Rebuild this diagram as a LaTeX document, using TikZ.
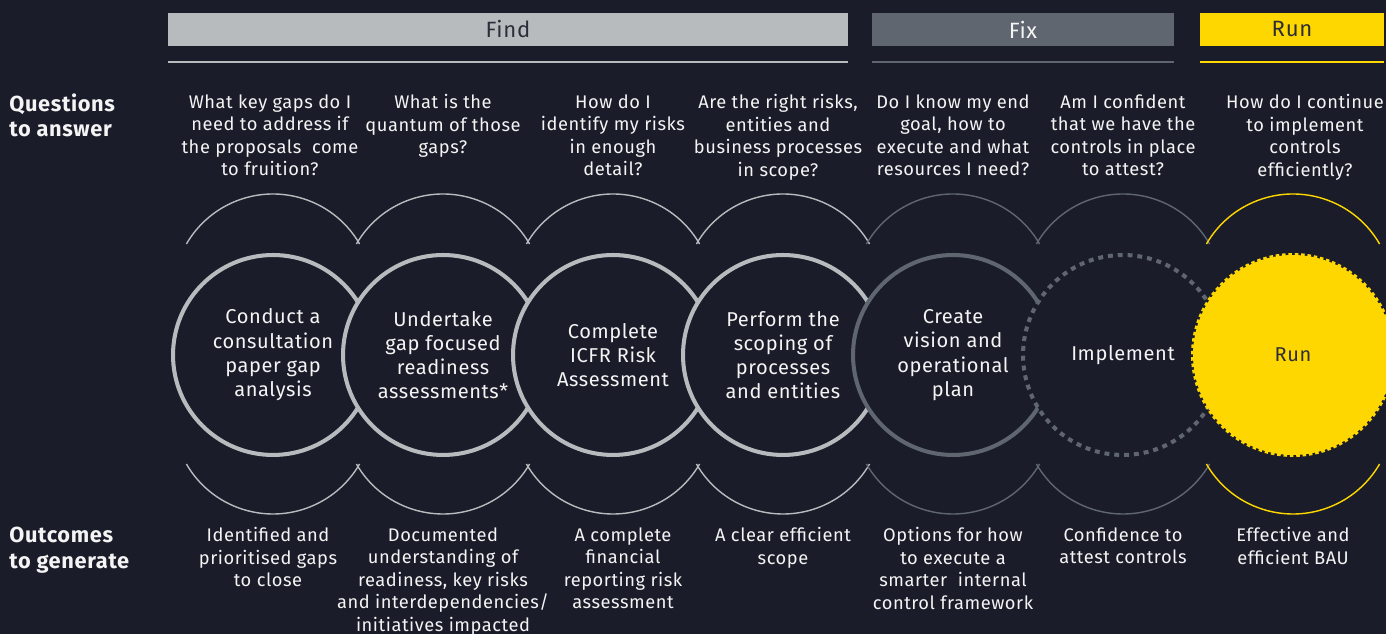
\documentclass[tikz,border=0pt]{standalone}
\usepackage{fontspec}
\setmainfont{Fira Sans}[LetterSpace=3]
\definecolor{navy}{HTML}{1A1D29}
\definecolor{findgrey}{HTML}{B8BBBE}
\definecolor{fixgrey}{HTML}{5F6670}
\definecolor{runyellow}{HTML}{FFD700}
\definecolor{inkdark}{HTML}{2B2E38}
\definecolor{paper}{HTML}{F4F4F4}
\tikzset{
  phasebar/.style={minimum height=0.66cm, inner sep=0pt, font=\fontsize{12.6}{14}\selectfont},
  sidelabel/.style={anchor=north west, align=left, inner sep=0pt, text=paper, font=\fontsize{12.4}{14.6}\bfseries\selectfont},
  question/.style={anchor=north, align=center, inner sep=0pt, text=paper, font=\fontsize{10.4}{12.8}\selectfont},
  outcome/.style={question},
  ring/.style={circle, minimum size=4cm, inner sep=0pt, line width=2.3pt, fill=navy, align=center, text=paper, font=\fontsize{11.4}{13.8}\selectfont},
  findring/.style={ring, draw=findgrey},
  fixring/.style={ring, draw=fixgrey},
  dotring/.style={ring, draw=fixgrey, dash pattern=on 2.8pt off 2.8pt},
  runring/.style={ring, draw=runyellow, fill=runyellow, text=inkdark, dash pattern=on 2pt off 1.6pt},
  findarc/.style={draw=findgrey, line width=0.8pt},
  fixarc/.style={draw=fixgrey, line width=0.8pt},
  runarc/.style={draw=runyellow, line width=0.8pt}
}
\begin{document}
\begin{tikzpicture}[x=0.02cm, y=0.02cm]
\useasboundingbox[fill=navy] (0,0) rectangle (1386,634);
\clip (0,0) rectangle (1386,634);
% phase bars
\node[phasebar, fill=findgrey, text=inkdark, minimum width=13.6cm] (find) at (508,604.5) {Find};
\node[phasebar, fill=fixgrey, text=paper, minimum width=6.04cm] (fix) at (1023,604.5) {Fix};
\node[phasebar, fill=runyellow, text=inkdark, minimum width=3.68cm] (run) at (1292,604.5) {Run};
\draw[findgrey, line width=1.1pt] (find.west |- 0,572) -- (find.east |- 0,572);
\draw[fixgrey, line width=1.1pt] (fix.west |- 0,572) -- (fix.east |- 0,572);
\draw[runyellow, line width=1.1pt] (run.west |- 0,572) -- (run.east |- 0,572);
% row labels
\node[sidelabel] (qlabel) at (9,541) {Questions\\to answer};
\node[sidelabel] (olabel) at (9,107) {Outcomes\\to generate};
% questions
\node[question] (q1) at (270,540) {What key gaps do I\\need to address if\\the proposals\ \ come\\to fruition?};
\node[question] (q2) at (443,540) {What is the\\quantum of those\\gaps?};
\node[question] (q3) at (613,540) {How do I\\identify my risks\\in enough\\detail?};
\node[question] (q4) at (778,540) {Are the right risks,\\entities and\\business processes\\in scope?};
\node[question] (q5) at (953,540) {Do I know my end\\goal, how to\\execute and what\\resources I need?};
\node[question] (q6) at (1123,540) {Am I confident\\that we have the\\controls in place\\to attest?};
\node[question] (q7) at (1305,540) {How do I continue\\to implement\\controls\\efficiently?};
% arcs above
\draw[findarc] (359.6,390) arc[start angle=30, end angle=150, radius=2cm];
\draw[findarc] (529.6,390) arc[start angle=30, end angle=150, radius=2cm];
\draw[findarc] (699.6,390) arc[start angle=30, end angle=150, radius=2cm];
\draw[findarc] (869.6,390) arc[start angle=30, end angle=150, radius=2cm];
\draw[fixarc] (1039.6,390) arc[start angle=30, end angle=150, radius=2cm];
\draw[fixarc] (1209.6,390) arc[start angle=30, end angle=150, radius=2cm];
\draw[runarc] (1379.6,390) arc[start angle=30, end angle=150, radius=2cm];
% arcs below
\draw[findarc] (186.4,170) arc[start angle=210, end angle=330, radius=2cm];
\draw[findarc] (356.4,170) arc[start angle=210, end angle=330, radius=2cm];
\draw[findarc] (526.4,170) arc[start angle=210, end angle=330, radius=2cm];
\draw[findarc] (696.4,170) arc[start angle=210, end angle=330, radius=2cm];
\draw[fixarc] (866.4,170) arc[start angle=210, end angle=330, radius=2cm];
\draw[fixarc] (1036.4,170) arc[start angle=210, end angle=330, radius=2cm];
\draw[runarc] (1206.4,170) arc[start angle=210, end angle=330, radius=2cm];
% steps
\node[findring] (c1) at (273,279) {Conduct a\\consultation\\paper gap\\analysis};
\node[findring] (c2) at (443,279) {Undertake\\gap focused\\readiness\\assessments*};
\node[findring] (c3) at (613,279) {Complete\\ICFR Risk\\Assessment};
\node[findring] (c4) at (783,279) {Perform the\\scoping of\\processes\\and entities};
\node[fixring] (c5) at (953,279) {Create\\vision and\\operational\\plan};
\node[dotring] (c6) at (1123,279) {Implement};
\node[runring] (c7) at (1293,279) {Run};
% outcomes
\node[outcome] (o1) at (268,107) {Identified and\\prioritised gaps\\to close};
\node[outcome] (o2) at (443,107) {Documented\\understanding of\\readiness, key risks\\and interdependencies/\\initiatives impacted};
\node[outcome] (o3) at (623,107) {A complete\\financial\\reporting risk\\assessment};
\node[outcome] (o4) at (783,107) {A clear efficient\\scope};
\node[outcome] (o5) at (953,107) {Options for how\\to execute a\\smarter\ \ internal\\control framework};
\node[outcome] (o6) at (1123,107) {Confidence to\\attest controls};
\node[outcome] (o7) at (1293,107) {Effective and\\efficient BAU};
\end{tikzpicture}
\end{document}
